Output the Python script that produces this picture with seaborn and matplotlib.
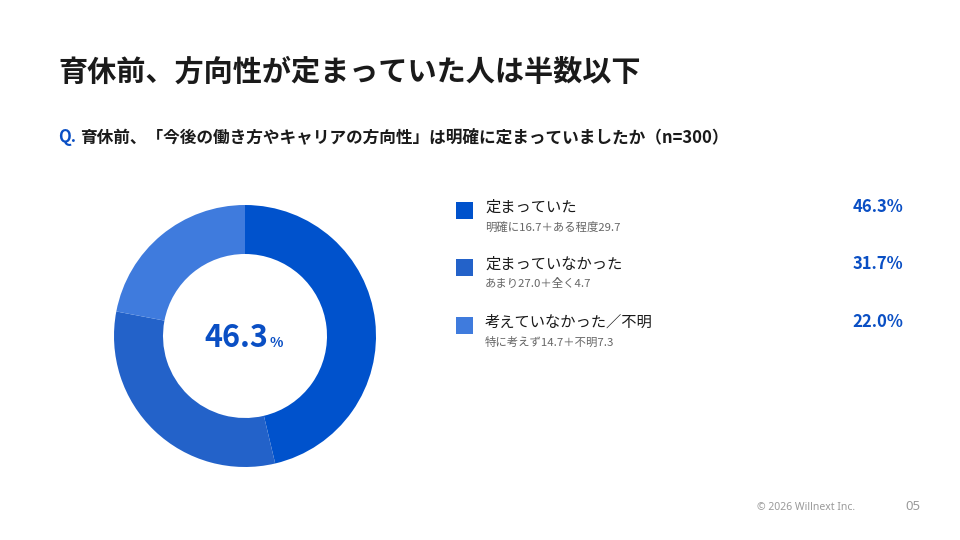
import matplotlib
matplotlib.use("Agg")
import matplotlib.pyplot as plt
import seaborn as sns

# データ
categories = ["定まっていた", "定まっていなかった", "考えていなかった／不明"]
details = ["明確に16.7＋ある程度29.7", "あまり27.0＋全く4.7", "特に考えず14.7＋不明7.3"]
shares = [46.3, 31.7, 22.0]
colors = ["#0052CC", "#2362C9", "#3F7BDD"]

sns.set_theme(style="white")
plt.rcParams["font.family"] = ["Noto Sans CJK JP", "DejaVu Sans"]

W, H = 960, 540
fig = plt.figure(figsize=(9.6, 5.4), dpi=100)
fig.patch.set_facecolor("white")


def px(x, y):
    return x / W, 1 - y / H


dark = "#1a1a1a"
blue = "#0A4FC4"

# タイトル
fig.text(*px(58, 72), "育休前、方向性が定まっていた人は半数以下", fontsize=21,
         fontweight="bold", color=dark, va="center", ha="left")
fig.text(*px(58, 137), "Q.", fontsize=12, fontweight="bold", color=blue,
         va="center", ha="left")
fig.text(*px(80, 137), "育休前、「今後の働き方やキャリアの方向性」は明確に定まっていましたか（n=300）",
         fontsize=12, fontweight="bold", color=dark, va="center", ha="left")

# ドーナツ
cx, cy, r_out, r_in = 245, 336, 131, 82
ax = fig.add_axes([(cx - r_out) / W, (H - cy - r_out) / H, 2 * r_out / W, 2 * r_out / H])
ax.pie(shares, colors=colors, startangle=90, counterclock=False, radius=1,
       wedgeprops=dict(width=(r_out - r_in) / r_out, edgecolor="none"))
ax.set_xlim(-1, 1)
ax.set_ylim(-1, 1)
ax.set_aspect("equal")
ax.axis("off")
ax.text(0.18, -0.085, f"{shares[0]:.1f}", fontsize=22, fontweight="bold", color=blue,
        ha="right", va="baseline")
ax.text(0.185, -0.085, "%", fontsize=10, fontweight="bold", color=blue,
        ha="left", va="baseline")

# 凡例
rows_y = [210, 267, 325]
for i, y in enumerate(rows_y):
    sq = fig.add_axes([456 / W, (H - y - 9) / H, 17 / W, 17 / H])
    sq.set_facecolor(colors[i])
    sq.set_xticks([])
    sq.set_yticks([])
    for s in sq.spines.values():
        s.set_visible(False)
    fig.text(*px(485, y - 3), categories[i], fontsize=11, color=dark, va="center", ha="left")
    fig.text(*px(485, y + 17), details[i], fontsize=8.2, color="#666666", va="center", ha="left")
    fig.text(*px(903, y - 3), f"{shares[i]:.1f}%", fontsize=12, fontweight="bold",
             color=blue, va="center", ha="right")

# フッター
fig.text(*px(855, 507), "© 2026 Willnext Inc.", fontsize=7.5, color="#9a9a9a",
         va="center", ha="right", family=["Noto Sans", "DejaVu Sans"])
fig.text(*px(921, 507), "05", fontsize=9.5, color="#9a9a9a", va="center", ha="right",
         family=["Noto Sans", "DejaVu Sans"])

fig.savefig("out.png", dpi=100, facecolor="white")
